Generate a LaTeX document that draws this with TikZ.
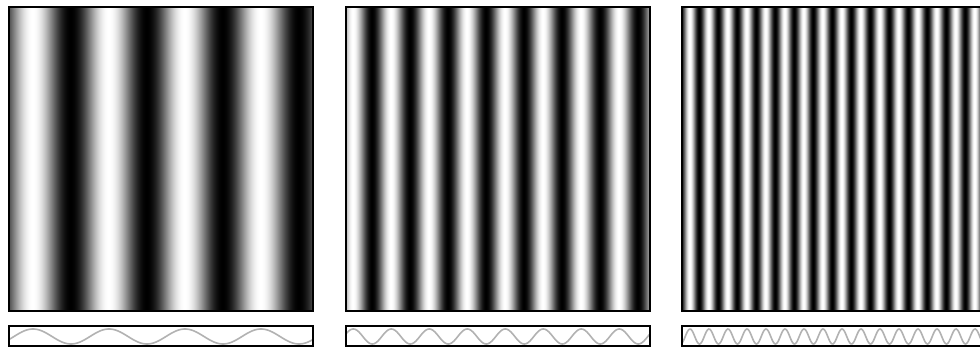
\documentclass[tikz,border=0pt]{standalone}
\begin{document}
\begin{tikzpicture}[x=1pt,y=-1pt]
\tikzset{frame/.style={draw=black,line width=2pt},
         wave/.style={draw=black!30,line width=1.6pt}}
\clip (0,0) rectangle (980,347);
\fill[white] (0,0) rectangle (980,347);
\foreach \lx/\per/\ph in {9/76/24, 346/38/7.3, 682/19/8}{
  \pgfmathsetmacro\kk{360/\per}
  \foreach \i in {0,...,303}{
    \pgfmathsetmacro\gv{max(0,min(100,50-50*cos((\i+0.5-\ph)*\kk)))}
    \fill[black!\gv] (\lx+\i,7.5) rectangle (\lx+\i+1.4,311.5);
  }
  \draw[frame] (\lx,7.5) rectangle (\lx+304,311.5);
  \fill[white] (\lx,326) rectangle (\lx+304,346);
  \begin{scope}
    \clip (\lx,326) rectangle (\lx+304,346);
    \draw[wave] plot[domain=0:304, samples=400, smooth] ({\lx+\x},{336.5-7.5*cos((\x-\ph)*\kk)});
  \end{scope}
  \draw[frame] (\lx,326) rectangle (\lx+304,346);
}
\end{tikzpicture}
\end{document}
